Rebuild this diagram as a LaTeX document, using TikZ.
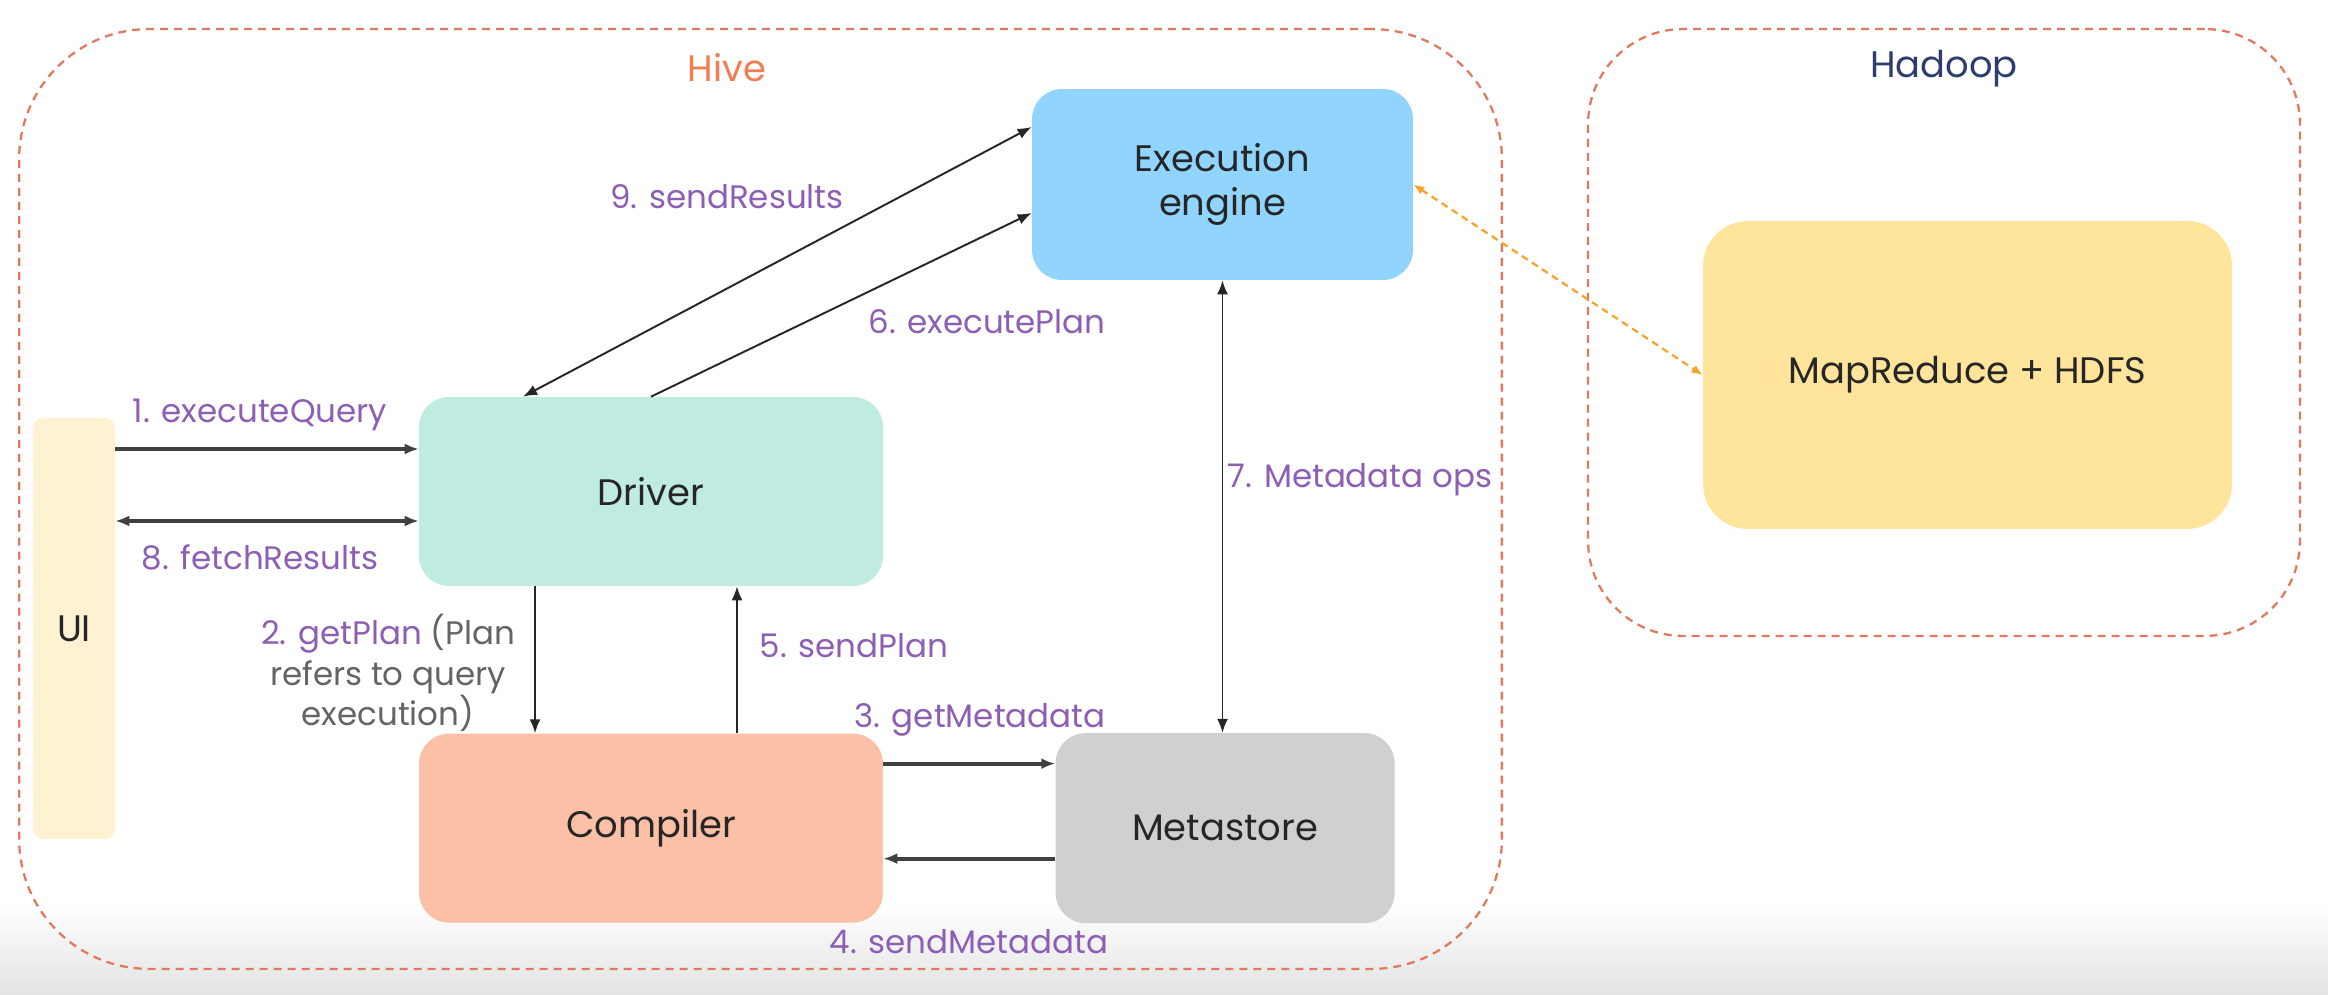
\documentclass[tikz,border=0pt]{standalone}
\usepackage{fontspec}
\setmainfont{Poppins}
\usepackage{tikz}
\usepackage{xcolor}
\usetikzlibrary{positioning,calc,shapes,fit}
\usetikzlibrary{arrows.meta}

\definecolor{hiveline}{RGB}{224,122,95}
\definecolor{hivetext}{RGB}{242,125,80}
\definecolor{hadooptext}{RGB}{45,62,110}
\definecolor{steptext}{RGB}{140,95,180}
\definecolor{notetext}{RGB}{100,100,100}
\definecolor{execfill}{RGB}{145,213,254}
\definecolor{drvfill}{RGB}{192,235,224}
\definecolor{uifill}{RGB}{255,242,210}
\definecolor{cmpfill}{RGB}{251,192,166}
\definecolor{msfill}{RGB}{210,207,208}
\definecolor{mrfill}{RGB}{255,228,155}
\definecolor{mrline}{RGB}{245,165,45}

\begin{document}
\begin{tikzpicture}[x=0.02cm,y=0.02cm,
    >={Latex[length=0.28cm,width=0.22cm]},
    comp/.style={rounded corners=0.6cm, align=center, text=black!85, font=\fontsize{21}{25}\selectfont},
    group/.style={draw=hiveline, line width=1.3pt, dash pattern=on 0.16cm off 0.12cm, rounded corners=2.6cm},
    title/.style={font=\fontsize{21}{25}\selectfont},
    lbl/.style={text=steptext, align=center, font=\fontsize{18.5}{23.2}\selectfont},
    callarrow/.style={line width=1.1pt, draw=black!85},
    busarrow/.style={line width=2.2pt, draw=black!75},
    hdarrow/.style={<->, >={Latex[length=0.22cm,width=0.18cm]}, draw=mrline, line width=1.3pt, dash pattern=on 0.14cm off 0.1cm}]

    \fill[white] (0,0) rectangle (2328,994);
    \useasboundingbox (0,0) rectangle (2328,994);
    \shade[top color=white, bottom color=black!11] (0,0) rectangle (2328,90);

    % the two groups
    \node[group, minimum width=29.66cm, minimum height=18.8cm] (hive) at (760.5,495) {};
    \node[group, rounded corners=1.9cm, minimum width=14.24cm, minimum height=12.14cm] (hadoop) at (1944,661.5) {};
    \node[title, text=hivetext] (hivetitle) at (727,926) {Hive};
    \node[title, text=hadooptext] (hadooptitle) at (1944,925) {Hadoop};

    \node[comp, fill=execfill, minimum width=7.62cm, minimum height=3.82cm] (exe) at (1222.5,809.5) {Execution\\engine};
    \node[comp, fill=drvfill, minimum width=9.28cm, minimum height=3.78cm] (drv) at (651,502.5) {Driver};
    \node[comp, fill=cmpfill, minimum width=9.28cm, minimum height=3.78cm, below=2.94cm of drv] (cmp) {Compiler};
    \node[comp, fill=msfill, minimum width=6.78cm, minimum height=3.8cm, right=3.44cm of cmp] (ms) {Metastore};
    \node[comp, fill=uifill, rounded corners=0.2cm, minimum width=1.64cm, minimum height=8.42cm] (ui) at (74,365.5) {UI};
    \node[comp, fill=mrfill, rounded corners=0.9cm, minimum width=10.58cm, minimum height=6.16cm] (mr) at (1967.5,619) {MapReduce + HDFS};

    \coordinate (q1) at ([yshift=0.85cm]drv.west);
    \coordinate (q8) at ([yshift=-0.59cm]drv.west);
    \coordinate (q3) at ([yshift=1.29cm]cmp.east);
    \coordinate (q4) at ([yshift=-0.61cm]cmp.east);

    \draw[busarrow,->] (q1 -| ui.east) -- (q1);
    \draw[busarrow,<->] (q8 -| ui.east) -- (q8);
    \draw[callarrow,->] ([xshift=-2.32cm]drv.south) -- ([xshift=-2.32cm]cmp.north);
    \draw[busarrow,->] (q3) -- (q3 -| ms.west);
    \draw[busarrow,->] (q4 -| ms.west) -- (q4);
    \draw[callarrow,->] ([xshift=1.72cm]cmp.north) -- ([xshift=1.72cm]drv.south);
    \draw[callarrow,->] (drv.north) -- ([yshift=-0.57cm]exe.west);
    \draw[callarrow,<->] (exe.south) -- (exe.south |- ms.north);
    \draw[callarrow,<->] ([xshift=-2.56cm]drv.north) -- ([yshift=1.15cm]exe.west);
    \draw[hdarrow] (exe.east) -- (mr.west);

    % step labels
    \node[lbl] (l1) at (260,579) {1. executeQuery};
    \node[lbl] (l2) at (388,321) {2. getPlan \textcolor{notetext}{(Plan}\\\textcolor{notetext}{refers to query}\\\textcolor{notetext}{execution)}};
    \node[lbl] (l3) at (980,274) {3. getMetadata};
    \node[lbl] (l4) at (969,52) {4. sendMetadata};
    \node[lbl] (l5) at (854,348) {5. sendPlan};
    \node[lbl] (l6) at (987,672) {6. executePlan};
    \node[lbl] (l7) at (1360,514) {7. Metadata ops};
    \node[lbl] (l8) at (260,437) {8. fetchResults};
    \node[lbl] (l9) at (727,797) {9. sendResults};

\end{tikzpicture}
\end{document}
